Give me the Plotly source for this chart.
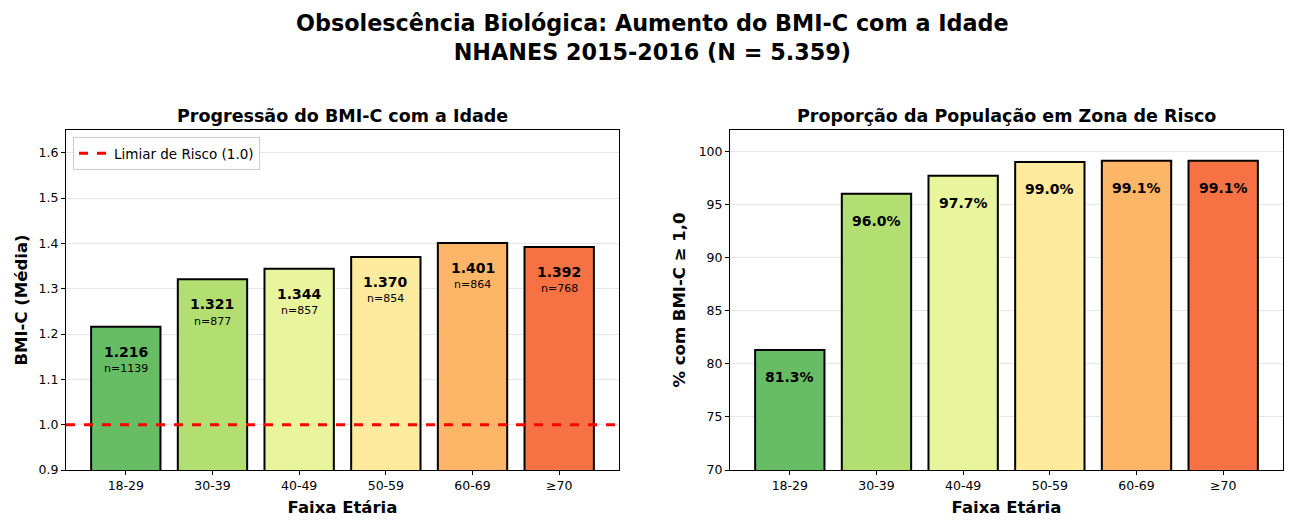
import plotly.graph_objects as go

faixas = ["18-29", "30-39", "40-49", "50-59", "60-69", "≥70"]
bmi_media = [1.216, 1.321, 1.344, 1.370, 1.401, 1.392]
n_grupo = [1139, 877, 857, 854, 864, 768]
pct_risco = [81.3, 96.0, 97.7, 99.0, 99.1, 99.1]
cores = ["#66bd63", "#b3df72", "#e9f59d", "#feeb9d", "#fdb668", "#f67245"]

# a pagina html desloca a figura ~8px (margem do body), por isso a figura e um pouco menor
OFF = 8
W, H = 1293 - OFF, 527 - OFF
ML, MT = 66 - OFF, 130 - OFF
MR = W - (1283 - OFF)
MB = H - (470 - OFF)
PW, PH = W - ML - MR, H - MT - MB


def px_x(p):
    return (p - OFF - ML) / PW


def px_y(p):
    return 1 - (p - OFF - MT) / PH


fig = go.Figure()

fig.add_trace(go.Bar(x=faixas, y=bmi_media, marker=dict(color=cores, line=dict(color="black", width=2)),
                     width=0.8, showlegend=False, xaxis="x", yaxis="y"))
fig.add_trace(go.Bar(x=faixas, y=pct_risco, marker=dict(color=cores, line=dict(color="black", width=2)),
                     width=0.8, showlegend=False, xaxis="x2", yaxis="y2"))

# limiar de risco, num eixo numerico sobreposto para cobrir toda a largura
fig.add_trace(go.Scatter(x=[-0.69, 5.69], y=[1.0, 1.0], mode="lines", name="Limiar de Risco (1.0)",
                         line=dict(color="red", width=3, dash="dash"), xaxis="x3", yaxis="y"))

for f, v, n in zip(faixas, bmi_media, n_grupo):
    fig.add_annotation(x=f, y=v, text=f"<b>{v:.3f}</b>", showarrow=False, yshift=-25,
                       font=dict(size=14), xref="x", yref="y")
    fig.add_annotation(x=f, y=v, text=f"n={n}", showarrow=False, yshift=-42,
                       font=dict(size=11), xref="x", yref="y")

for f, p in zip(faixas, pct_risco):
    fig.add_annotation(x=f, y=p, text=f"<b>{p:.1f}%</b>", showarrow=False, yshift=-27,
                       font=dict(size=14), xref="x2", yref="y2")

dom1 = [0, px_x(619)]
dom2 = [px_x(730), 1]

# titulos
fig.add_annotation(x=sum(dom1) / 2, y=px_y(116), xref="paper", yref="paper", showarrow=False,
                   xanchor="center", yanchor="middle",
                   text="<b>Progressão do BMI-C com a Idade</b>", font=dict(size=17.5))
fig.add_annotation(x=sum(dom2) / 2, y=px_y(116), xref="paper", yref="paper", showarrow=False,
                   xanchor="center", yanchor="middle",
                   text="<b>Proporção da População em Zona de Risco</b>", font=dict(size=17.5))
fig.add_annotation(x=px_x(652), y=px_y(8), xref="paper", yref="paper", showarrow=False,
                   xanchor="center", yanchor="top",
                   text="<b>Obsolescência Biológica: Aumento do BMI-C com a Idade<br>"
                        "NHANES 2015-2016 (N = 5.359)</b>", font=dict(size=22.3))

eixo = dict(showline=True, linecolor="black", linewidth=1, mirror=True, ticks="outside",
            tickcolor="black", ticklen=4, tickfont=dict(size=12.5), automargin=False)
xtit = dict(text="<b>Faixa Etária</b>", font=dict(size=16.5), standoff=9)

fig.update_layout(
    xaxis=dict(**eixo, domain=dom1, range=[-0.69, 5.69], title=xtit, anchor="y"),
    xaxis2=dict(**eixo, domain=dom2, range=[-0.69, 5.69], title=xtit, anchor="y2"),
    xaxis3=dict(overlaying="x", range=[-0.69, 5.69], visible=False),
    yaxis=dict(**eixo, range=[0.9, 1.65], dtick=0.1, tickformat=".1f",
               showgrid=True, gridcolor="#e6e6e6", zeroline=False, anchor="x",
               title=dict(text="<b>BMI-C (Média)</b>", font=dict(size=16.5), standoff=6)),
    yaxis2=dict(**eixo, range=[70, 102], dtick=5,
                showgrid=True, gridcolor="#e6e6e6", zeroline=False, anchor="x2",
                title=dict(text="<b>% com BMI-C ≥ 1,0</b>", font=dict(size=16.5), standoff=8)),
    width=W, height=H,
    plot_bgcolor="white", paper_bgcolor="white",
    font=dict(family="DejaVu Sans", color="black"),
    margin=dict(l=ML, r=MR, t=MT, b=MB),
    legend=dict(x=px_x(73), y=px_y(137), xref="paper", yref="paper",
                xanchor="left", yanchor="top",
                bgcolor="white", bordercolor="#cccccc", borderwidth=1, font=dict(size=13.5)),
)

fig.write_html("out.html")
